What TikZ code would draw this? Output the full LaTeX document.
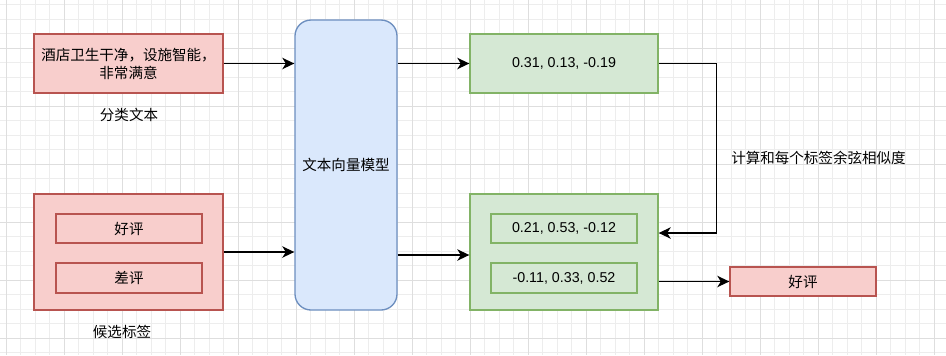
\documentclass[tikz,border=0pt]{standalone}
\usepackage{fontspec}
\setmainfont{Liberation Sans}
\newfontfamily\cjk{Noto Sans CJK SC}
\usetikzlibrary{arrows.meta}
\definecolor{pinkfill}{HTML}{F8CECC}
\definecolor{pinkline}{HTML}{B85450}
\definecolor{greenfill}{HTML}{D5E8D4}
\definecolor{greenline}{HTML}{82B366}
\definecolor{bluefill}{HTML}{DAE8FC}
\definecolor{blueline}{HTML}{6C8EBF}
\definecolor{gridminor}{HTML}{EDEDED}
\definecolor{gridmajor}{HTML}{DEDEDE}
\tikzset{
  pinkbox/.style={draw=pinkline,fill=pinkfill,line width=1pt,inner sep=0pt,align=center,font=\cjk\fontsize{10.9}{13.5}\selectfont},
  greenbox/.style={draw=greenline,fill=greenfill,line width=1pt,inner sep=0pt,align=center,font=\fontsize{10.7}{13.5}\selectfont},
  modelbox/.style={draw=blueline,fill=bluefill,line width=1pt,rounded corners=12pt,inner sep=0pt,align=center,font=\cjk\fontsize{10.9}{13.5}\selectfont},
  plainlabel/.style={inner sep=0pt,font=\cjk\fontsize{10.9}{13.5}\selectfont},
  arr/.style={line width=1.2pt,-{Stealth[length=9pt,width=8.5pt,inset=2.6pt]}},
}
\begin{document}
\begin{tikzpicture}[x=0.75pt,y=-0.75pt]
\useasboundingbox (0,0) rectangle (946,355);
\fill[white] (0,0) rectangle (946,355);
% grid
\foreach \k in {0,...,64} \draw[gridminor,line width=0.6pt] (6+14.5*\k,0) -- (6+14.5*\k,355);
\foreach \k in {0,...,24} \draw[gridminor,line width=0.6pt] (0,4.5+14.5*\k) -- (946,4.5+14.5*\k);
\foreach \k in {0,...,16} \draw[gridmajor,line width=0.6pt] (6+58*\k,0) -- (6+58*\k,355);
\foreach \k in {0,...,5} \draw[gridmajor,line width=0.6pt] (0,48+58*\k) -- (946,48+58*\k);

% left column
\node[pinkbox,minimum width=141.75pt,minimum height=44.25pt] (txt) at (128.5,63.5) {酒店卫生干净，设施智能，\\非常满意};
\node[plainlabel] (lbltxt) at (129,115) {分类文本};
\node[pinkbox,minimum width=141.75pt,minimum height=87pt] (cand) at (128.5,252) {};
\node[pinkbox,minimum width=109.5pt,minimum height=21.75pt] (good) at (129,228.5) {好评};
\node[pinkbox,minimum width=109.5pt,minimum height=22.5pt] (bad) at (129,278) {差评};
\node[plainlabel] (lblcand) at (122,332) {候选标签};

% model
\node[modelbox,minimum width=76.5pt,minimum height=217.5pt] (model) at (346,165) {文本向量模型};

% vectors
\node[greenbox,minimum width=141pt,minimum height=44.25pt] (g1) at (564,63.5) {0.31, 0.13, -0.19};
\node[greenbox,minimum width=141pt,minimum height=87pt] (g2) at (564,252) {};
\node[greenbox,minimum width=109.5pt,minimum height=21.75pt] (v1) at (564,228.5) {0.21, 0.53, -0.12};
\node[greenbox,minimum width=109.5pt,minimum height=22.5pt] (v2) at (564,278) {-0.11, 0.33, 0.52};

% result
\node[pinkbox,minimum width=109.5pt,minimum height=21.75pt] (res) at (803,281.5) {好评};
\node[plainlabel,anchor=west] (lblsim) at (731,158) {计算和每个标签余弦相似度};

% connectors
\draw[arr] (txt.east) -- (txt.east -| model.west);
\draw[arr] (cand.east) -- (cand.east -| model.west);
\draw[arr] (model.east |- g1.west) -- (g1.west);
\draw[arr] ([yshift=-2.25pt]model.east |- g2.west) -- ([yshift=-2.25pt]g2.west);
\draw[arr] (g1.east) -- ++(58,0) |- ([yshift=14.25pt]g2.east);
\draw[arr] (res.west -| g2.east) -- (res.west);
\end{tikzpicture}
\end{document}
